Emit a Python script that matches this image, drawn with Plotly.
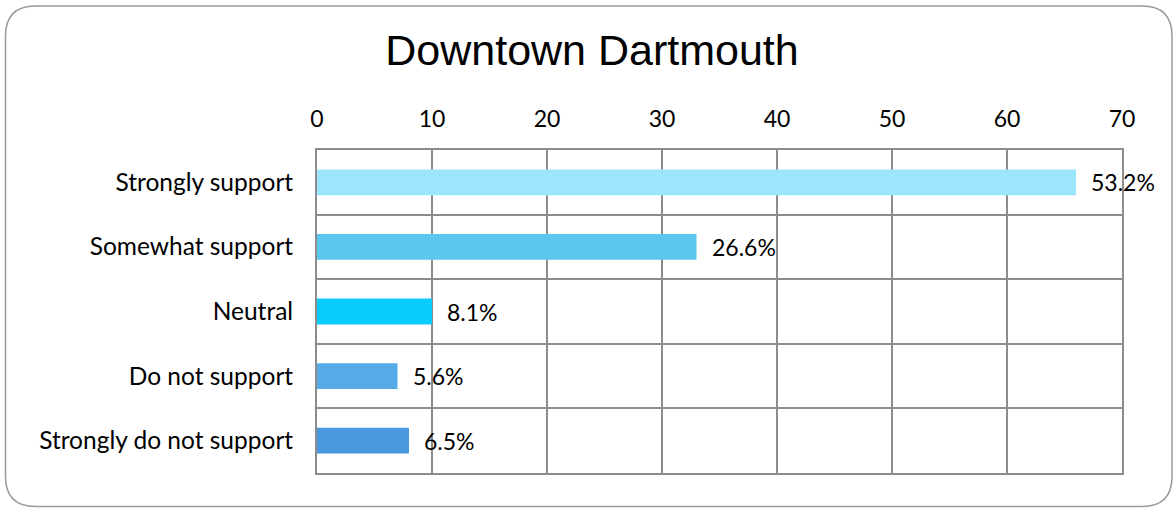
import plotly.graph_objects as go

categories = ["Strongly support", "Somewhat support", "Neutral", "Do not support", "Strongly do not support"]
counts = [66, 33, 10, 7, 8]
pct_labels = ["53.2%", "26.6%", "8.1%", "5.6%", "6.5%"]
colors = ["#9BE5FD", "#5AC8EE", "#0ACCFC", "#56AAE6", "#4A99DE"]
x_ticks = [0, 10, 20, 30, 40, 50, 60, 70]
title_text = "Downtown Dartmouth"

W, H = 1173, 508
L, R, T, B = 317, 51, 150, 35
FONT = "Lato"

fig = go.Figure()
fig.add_trace(go.Bar(
    x=counts, y=categories, orientation="h",
    marker=dict(color=colors, line=dict(width=0)),
    width=0.4, hoverinfo="x+y",
))

for c, v, p in zip(categories, counts, pct_labels):
    fig.add_annotation(x=v, y=c, text=p, showarrow=False, xanchor="left",
                       xshift=13, font=dict(family=FONT, size=23, color="#000000"))

# rounded border around whole chart (paper coords computed from pixels)
pw, ph = W - L - R, H - T - B
def px(x):
    return (x - L) / pw
def py(y):
    return (H - B - y) / ph
x0, x1, y0, y1, r = 5.5, 1172, 6, 506.5, 30
path = (f"M {px(x0+r)},{py(y0)} L {px(x1-r)},{py(y0)} Q {px(x1)},{py(y0)} {px(x1)},{py(y0+r)} "
        f"L {px(x1)},{py(y1-r)} Q {px(x1)},{py(y1)} {px(x1-r)},{py(y1)} "
        f"L {px(x0+r)},{py(y1)} Q {px(x0)},{py(y1)} {px(x0)},{py(y1-r)} "
        f"L {px(x0)},{py(y0+r)} Q {px(x0)},{py(y0)} {px(x0+r)},{py(y0)} Z")
fig.add_shape(type="path", path=path, xref="paper", yref="paper",
              line=dict(color="#9A9A9A", width=1.5), layer="below")

fig.update_layout(
    width=W, height=H,
    margin=dict(l=L, r=R, t=T, b=B, autoexpand=False),
    paper_bgcolor="white", plot_bgcolor="white",
    showlegend=False,
    title=dict(text=title_text, x=592 / W, xref="container", xanchor="center",
               y=1 - 50 / H, yref="container", yanchor="middle",
               font=dict(family="Liberation Sans", size=43, color="#000000")),
    font=dict(family=FONT, size=23, color="#000000"),
    xaxis=dict(side="top", range=[0, 70], tickvals=x_ticks, showgrid=True,
               gridcolor="#8C8C8C", gridwidth=2, zeroline=False,
               showline=True, mirror=True, linecolor="#8C8C8C", linewidth=2,
               ticks="", ticklabelstandoff=12,
               tickfont=dict(family=FONT, size=23)),
    yaxis=dict(type="category", categoryorder="array", categoryarray=categories,
               autorange="reversed", tickson="boundaries", showgrid=True,
               gridcolor="#8C8C8C", gridwidth=2, showline=True, mirror=True,
               linecolor="#8C8C8C", linewidth=2, ticks="", ticklabelstandoff=17,
               tickfont=dict(family=FONT, size=24.5)),
    bargap=0.6,
)

fig.write_html("out.html", config={"displayModeBar": False},
               post_script="document.body.style.margin='0';document.body.style.overflow='hidden';")
